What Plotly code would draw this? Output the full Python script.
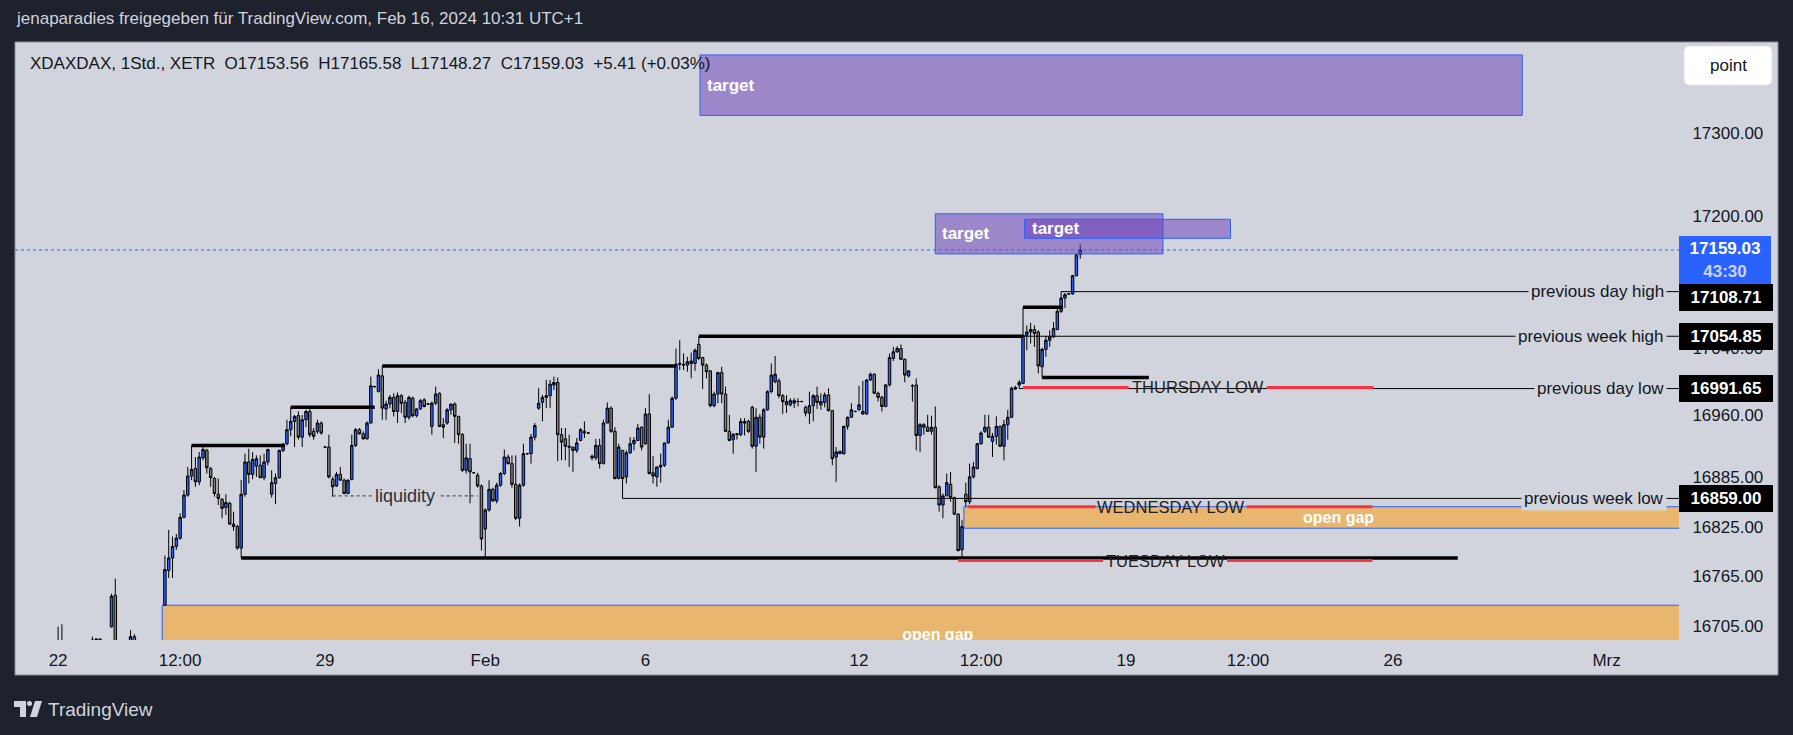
import plotly.graph_objects as go

# ---------------- data: hourly XDAX candles (open, high, low, close), 14 bars per day ----------------
jan22 = [(16660,16704,16640,16675),(16675,16707,16660,16680),(16680,16686,16650,16662),(16662,16680,16645,16670),
         (16670,16684,16655,16665),(16665,16682,16650,16676),(16676,16686,16660,16668),(16668,16684,16655,16678),
         (16678,16687,16668,16682),(16682,16692,16678,16688),(16688,16690,16686,16689),(16689,16690,16684,16686),
         (16686,16688,16683,16685),(16685,16687,16682,16684)]
jan23 = [(16704,16744,16703,16741),(16742,16762,16655,16668),(16668,16680,16640,16650),(16650,16672,16635,16660),
         (16660,16678,16645,16672),(16672,16700,16665,16692),(16692,16695,16650,16655),(16655,16668,16628,16640),
         (16640,16662,16625,16648),(16648,16660,16618,16630),(16630,16645,16625,16640),(16640,16648,16636,16644),
         (16644,16650,16640,16646),(16646,16652,16642,16648)]
jan24 = [(16730,16790,16729,16773),(16772,16821,16763,16787),(16787,16813,16763,16801),(16801,16816,16797,16811),
         (16811,16841,16809,16836),(16836,16869,16835,16863),(16863,16897,16861,16886),(16886,16923,16881,16894),
         (16895,16909,16873,16879),(16879,16915,16875,16909),(16908,16921,16905,16918),(16917,16919,16889,16896),
         (16895,16897,16873,16884),(16883,16885,16861,16865)]
jan25 = [(16864,16883,16851,16859),(16858,16859,16835,16847),(16848,16864,16839,16854),(16853,16855,16827,16828),
         (16828,16843,16820,16825),(16825,16827,16797,16799),(16799,16881,16787,16864),(16864,16913,16861,16903),
         (16903,16919,16877,16888),(16888,16915,16882,16906),(16898,16911,16885,16907),(16899,16911,16884,16884),
         (16884,16913,16881,16903),(16903,16919,16899,16918)]
jan26 = [(16864,16893,16860,16878),(16877,16889,16852,16884),(16884,16918,16883,16917),(16917,16926,16915,16923),
         (16925,16954,16923,16942),(16942,16969,16934,16952),(16952,16960,16921,16958),(16959,16964,16930,16933),
         (16933,16960,16921,16954),(16954,16966,16945,16964),(16964,16968,16933,16936),(16940,16944,16930,16934),
         (16940,16954,16937,16950),(16950,16952,16936,16938)]
jan29 = [(16921,16922,16920,16921),(16921,16936,16883,16885),(16882,16885,16861,16873),(16874,16891,16873,16888),
         (16888,16897,16881,16881),(16881,16883,16864,16865),(16865,16882,16864,16881),(16882,16936,16881,16923),
         (16923,16944,16921,16942),(16942,16944,16936,16937),(16937,16940,16930,16931),(16931,16952,16930,16950),
         (16950,17006,16950,16995),(16994,16995,16993,16994)]
jan30 = [(16988,17015,16987,17008),(17007,17019,16954,16968),(16967,16977,16954,16973),(16973,16984,16968,16981),
         (16981,16986,16958,16964),(16964,16987,16950,16983),(16983,16985,16962,16974),(16975,16978,16950,16957),
         (16957,16983,16954,16981),(16980,16982,16957,16959),(16959,16968,16957,16967),(16967,16979,16966,16977),
         (16978,16980,16969,16970),(16973,16974,16972,16973)]
jan31 = [(16946,16976,16936,16974),(16974,16994,16972,16985),(16986,16987,16945,16946),(16948,16956,16932,16945),
         (16950,16968,16948,16966),(16966,16973,16960,16973),(16973,16975,16926,16958),(16958,16959,16925,16936),
         (16936,16938,16891,16893),(16893,16925,16889,16908),(16907,16925,16853,16891),(16890,16891,16889,16890),
         (16887,16890,16872,16874),(16874,16876,16796,16810)]
feb01 = [(16822,16847,16787,16845),(16845,16881,16843,16870),(16870,16872,16855,16856),(16856,16878,16853,16875),
         (16875,16891,16873,16889),(16889,16918,16887,16909),(16909,16912,16900,16901),(16901,16911,16872,16876),
         (16876,16911,16833,16835),(16835,16877,16825,16875),(16875,16925,16873,16913),(16913,16914,16912,16913),
         (16913,16937,16901,16933),(16933,16950,16929,16947)]
feb02 = [(16968,16992,16966,16974),(16975,16984,16952,16981),(16981,17002,16968,16983),(16983,17002,16968,16997),
         (16996,17006,16990,16999),(16999,17005,16904,16936),(16936,16944,16905,16927),(16931,16944,16905,16922),
         (16922,16936,16897,16921),(16921,16921,16891,16917),(16917,16932,16914,16926),(16929,16944,16928,16942),
         (16940,16952,16932,16938),(16938,16939,16937,16938)]
feb05 = [(16910,16912,16905,16908),(16908,16931,16905,16923),(16923,16931,16895,16901),(16901,16954,16900,16950),
         (16950,16975,16950,16968),(16968,16970,16938,16940),(16940,16945,16882,16883),(16883,16925,16882,16921),
         (16917,16917,16859,16883),(16885,16917,16877,16914),(16914,16933,16913,16925),(16925,16933,16917,16929),
         (16929,16949,16928,16944),(16945,16946,16917,16921)]
feb06 = [(16925,16968,16924,16961),(16961,16985,16888,16889),(16890,16910,16877,16886),(16885,16897,16873,16897),
         (16897,16913,16878,16899),(16899,16926,16897,16926),(16926,16954,16925,16945),(16945,16982,16944,16980),
         (16980,17040,16978,17021),(17021,17050,17014,17022),(17021,17034,17014,17020),(17020,17030,17012,17024),
         (17025,17035,17004,17022),(17022,17040,17013,17038)]
feb07 = [(17045,17054.85,17026,17028),(17029,17030,16991,17020),(17020,17022,17004,17012),(17013,17014,16969,16971),
         (16971,16988,16969,16985),(16985,17012,16974,17011),(17011,17018,16974,16985),(16985,16994,16939,16940),
         (16940,16960,16928,16929),(16930,16938,16913,16936),(16936,16938,16930,16937),(16936,16956,16934,16952),
         (16952,16956,16935,16950),(16952,16954,16938,16940)]
feb08 = [(16969,16971,16919,16922),(16922,16968,16891,16957),(16957,16961,16925,16933),(16933,16968,16919,16966),
         (16966,16990,16965,16988),(16988,17022,16986,17008),(17000,17031,16998,17009),(17001,17004,16980,16983),
         (16983,16985,16961,16976),(16972,16984,16962,16976),(16972,16980,16970,16977),(16974,16980,16968,16977),
         (16976,16980,16970,16976),(16976,16977,16975,16976)]
feb09 = [(16969,16971,16958,16962),(16962,16988,16949,16971),(16971,16985,16952,16983),(16983,16994,16967,16975),
         (16972,16986,16966,16976),(16975,16987,16969,16984),(16984,16992,16964,16965),(16965,16966,16899,16907),
         (16909,16921,16879,16915),(16916,16916,16913,16913),(16913,16947,16912,16946),(16946,16958,16942,16957),
         (16957,16974,16956,16966),(16964,16965,16963,16964)]
feb12 = [(16966,16995,16965,16972),(16964,17001,16960,16961),(16961,17003,16960,17002),(17002,17011,17001,17009),
         (17009,17010,16985,16986),(16986,16988,16976,16981),(16981,16983,16964,16970),(16970,16997,16969,16996),
         (16996,17034,16994,17029),(17028,17042,17025,17036),(17036,17043,17035,17040),(17040,17045,17026,17027),
         (17027,17028,16999,17008),(17007,17014,17005,17013)]
feb13 = [(16995,16997,16976,16995),(16996,17004,16917,16935),(16935,16950,16915,16948),(16948,16950,16936,16945),
         (16945,16960,16940,16940),(16940,16959,16936,16945),(16945,16970,16871,16872),(16873,16875,16843,16851),
         (16851,16865,16835,16862),(16862,16889,16862,16878),(16876,16891,16855,16860),(16860,16861,16839,16840),
         (16840,16841,16795,16796),(16797,16833,16787,16825)]
feb14 = [(16864,16878,16849,16855),(16855,16901,16852,16885),(16885,16903,16883,16897),(16895,16926,16894,16925),
         (16925,16940,16924,16938),(16940,16960,16938,16945),(16945,16960,16932,16933),(16928,16938,16909,16934),
         (16934,16958,16924,16946),(16946,16947,16921,16922),(16922,16954,16905,16948),(16948,16966,16930,16957),
         (16957,16994,16956,16992),(16991,16995,16990,16993)]
feb15 = [(16996,17002,16991.65,16999),(16998,17090,16997,17056),(17056,17068,17038,17060),(17060,17071,17046,17063),
         (17063,17068,17042,17058),(17060,17062,17010,17019),(17018,17041,17005,17039),(17039,17055,17030,17050),
         (17050,17062,17042,17054),(17054,17072,17053,17064),(17063,17089,17062,17085),(17085,17108.71,17083,17101),
         (17101,17107,17089,17105),(17106,17107,17105,17106)]
feb16 = [(17106,17129,17105,17128),(17128,17155,17127,17153),(17153.56,17165.58,17148.27,17159.03)]

days = [jan22, jan23, jan24, jan25, jan26, jan29, jan30, jan31, feb01, feb02, feb05,
        feb06, feb07, feb08, feb09, feb12, feb13, feb14, feb15, feb16]
rows = [r for d in days for r in d]
bars = list(range(len(rows)))
opens = [r[0] for r in rows]
highs = [r[1] for r in rows]
lows = [r[2] for r in rows]
closes = [r[3] for r in rows]
last_price = 17159.03

# axis ticks (bar index = hourly bars since Jan 22, 08:00)
x_tick_bars = [0, 32, 70, 112, 154, 210, 242, 280, 312, 350, 406]
x_tick_text = ["22", "12:00", "29", "Feb", "6", "12", "12:00", "19", "12:00", "26", "Mrz"]
y_tick_vals = [16705, 16765, 16825, 16885, 16960, 17040, 17200, 17300]

# drawings: structure lines (from bar, to bar, price)
struct_lines = [(35, 59.5, 16923), (61, 83, 16969), (85, 162, 17019), (168, 253, 17054.85),
                (253, 263.5, 17090), (258, 286, 17005), (48, 367, 16787)]
# reference levels (start bar, price, label)
ref_levels = [(263, 17108.71, "previous day high"), (168, 17054.85, "previous week high"),
              (252, 16991.65, "previous day low"), (148, 16859.00, "previous week low")]
# red day-low lines: (left seg start, left seg end, right seg start, right seg end, price, text, text bar)
day_lows = [(253, 280.7, 316.9, 344.9, 16993, "THURSDAY LOW", 298.8),
            (238.5, 272, 311.6, 344.6, 16849, "WEDNESDAY LOW", 291.8),
            (236, 274, 306.5, 344.6, 16784, "TUESDAY LOW", 290.3)]
# liquidity line
liq = (72, 110, 16862, 91)
# target boxes (x0, x1, y0, y1)
targets = [(168.3, 383.9, 17321.5, 17394.6), (230, 289.7, 17154.3, 17202.7), (253.4, 307.4, 17173.1, 17196.1)]
# open gaps (x0, x1, y0, y1)
gaps = [(27.3, 434, 16600, 16730), (237.5, 434, 16823, 16849)]

X_RANGE = [-11.3, 425.0]
Y_RANGE = [16688.0, 17410.2]

# ---------------- layout helpers (pixel -> paper) ----------------
W, H = 1793, 735
PL, PR, PT, PB = 15, 1679, 42, 640
def px(x): return (x - PL) / (PR - PL)
def py(y): return (PB - y) / (PB - PT)

FONT = "Liberation Sans, Arial, Helvetica, sans-serif"
PANE = "#d1d4dc"
DARK = "#1e222d"
INK = "#131722"
BLUE = "#2962ff"
RED = "#f23645"

fig = go.Figure()
fig.add_trace(go.Candlestick(
    x=bars, open=opens, high=highs, low=lows, close=closes,
    increasing=dict(fillcolor=BLUE, line=dict(color="#000000", width=1)),
    decreasing=dict(fillcolor="#7f7f7f", line=dict(color="#000000", width=1)),
    whiskerwidth=0, hoverinfo="skip", showlegend=False))

shapes = []
# pane background incl. axes
shapes.append(dict(type="rect", xref="paper", yref="paper", x0=px(15), x1=px(1778), y0=py(675), y1=py(42),
                   fillcolor=PANE, line=dict(color="#8a8e99", width=1), layer="below"))
for (x0, x1, y0, y1) in gaps:
    shapes.append(dict(type="rect", xref="x", yref="y", x0=x0, x1=x1, y0=y0, y1=y1,
                       fillcolor="rgba(255,152,0,0.5)", line=dict(color=BLUE, width=1), layer="below"))
for (b, p, _t) in ref_levels:
    shapes.append(dict(type="line", xref="x", yref="y", x0=b, x1=X_RANGE[1], y0=p, y1=p,
                       line=dict(color="#000000", width=1)))
shapes.append(dict(type="line", xref="x", yref="y", x0=liq[0], x1=liq[1], y0=liq[2], y1=liq[2],
                   line=dict(color="#2a2e39", width=1, dash="dot")))
for (x0, x1, p) in struct_lines:
    shapes.append(dict(type="line", xref="x", yref="y", x0=x0, x1=x1, y0=p, y1=p,
                       line=dict(color="#000000", width=3.5)))
for (a0, a1, b0, b1, p, _t, _tb) in day_lows:
    for (s0, s1) in ((a0, a1), (b0, b1)):
        shapes.append(dict(type="line", xref="x", yref="y", x0=s0, x1=s1, y0=p, y1=p,
                           line=dict(color=RED, width=3)))
for (x0, x1, y0, y1) in targets:
    shapes.append(dict(type="rect", xref="x", yref="y", x0=x0, x1=x1, y0=y0, y1=y1,
                       fillcolor="rgba(103,58,183,0.5)", line=dict(color=BLUE, width=1)))
shapes.append(dict(type="line", xref="paper", yref="y", x0=0, x1=1, y0=last_price, y1=last_price,
                   line=dict(color=BLUE, width=1, dash="dot")))

def rrect(x0, y0, x1, y1, r):
    return (f"M {px(x0+r)},{py(y0)} L {px(x1-r)},{py(y0)} Q {px(x1)},{py(y0)} {px(x1)},{py(y0+r)} "
            f"L {px(x1)},{py(y1-r)} Q {px(x1)},{py(y1)} {px(x1-r)},{py(y1)} L {px(x0+r)},{py(y1)} "
            f"Q {px(x0)},{py(y1)} {px(x0)},{py(y1-r)} L {px(x0)},{py(y0+r)} Q {px(x0)},{py(y0)} {px(x0+r)},{py(y0)} Z")
# "point" button
shapes.append(dict(type="path", xref="paper", yref="paper", path=rrect(1684, 46, 1772, 85, 6),
                   fillcolor="#ffffff", line=dict(color="#e0e3eb", width=1)))
# TradingView logo (simplified)
def poly(pts):
    return "M " + " L ".join(f"{px(a)},{py(b)}" for a, b in pts) + " Z"
shapes.append(dict(type="path", xref="paper", yref="paper",
                   path=poly([(14, 701), (26, 701), (26, 717), (20, 717), (20, 707), (14, 707)]),
                   fillcolor="#d1d4dc", line=dict(width=0)))
shapes.append(dict(type="circle", xref="paper", yref="paper", x0=px(27), x1=px(32), y0=py(706), y1=py(701),
                   fillcolor="#d1d4dc", line=dict(width=0)))
shapes.append(dict(type="path", xref="paper", yref="paper",
                   path=poly([(35, 701), (42, 701), (37, 717), (30, 717)]),
                   fillcolor="#d1d4dc", line=dict(width=0)))

ann = []
# title + legend
ann.append(dict(xref="paper", yref="paper", x=px(14), y=py(18), xanchor="left", yanchor="middle", showarrow=False,
                text="jenaparadies freigegeben für TradingView.com, Feb 16, 2024 10:31 UTC+1",
                font=dict(family=FONT, size=17, color="#d1d4dc")))
ann.append(dict(xref="paper", yref="paper", x=px(28), y=py(64), xanchor="left", yanchor="middle", showarrow=False,
                text="XDAXDAX, 1Std., XETR\u00a0\u00a0O17153.56\u00a0\u00a0H17165.58\u00a0\u00a0L17148.27\u00a0\u00a0C17159.03\u00a0\u00a0+5.41 (+0.03%)",
                font=dict(family=FONT, size=17, color=INK)))
ann.append(dict(xref="paper", yref="paper", x=px(1728), y=py(65.5), xanchor="center", yanchor="middle",
                showarrow=False, text="point", font=dict(family=FONT, size=17, color=INK)))
ann.append(dict(xref="paper", yref="paper", x=px(46), y=py(709), xanchor="left", yanchor="middle",
                showarrow=False, text="TradingView", font=dict(family=FONT, size=19, color="#d1d4dc")))
# target labels
for (x0, x1, y0, y1) in targets:
    ann.append(dict(xref="x", yref="y", x=x0, y=(y0 + y1) / 2, xanchor="left", yanchor="middle", xshift=5,
                    showarrow=False, text="<b>target</b>", font=dict(family=FONT, size=17, color="#ffffff")))
# wednesday open gap label
g = gaps[1]
ann.append(dict(xref="x", yref="y", x=(g[0] + g[1]) / 2, y=(g[2] + g[3]) / 2, showarrow=False,
                text="<b>open gap</b>", font=dict(family=FONT, size=16, color="#ffffff")))
# day-low labels
for (a0, a1, b0, b1, p, t, tb) in day_lows:
    ann.append(dict(xref="x", yref="y", x=tb, y=p, showarrow=False, text=t,
                    font=dict(family=FONT, size=16.5, color="#1e1e1e")))
# liquidity label
ann.append(dict(xref="x", yref="y", x=liq[3], y=liq[2], showarrow=False, text="liquidity", bgcolor=PANE,
                borderpad=2, font=dict(family=FONT, size=18, color="#2a2e39")))
# reference level labels
for (b, p, t) in ref_levels:
    ann.append(dict(xref="paper", yref="y", x=1, y=p, xanchor="right", yanchor="middle", xshift=-12,
                    showarrow=False, text=t, bgcolor=PANE, borderpad=2,
                    font=dict(family=FONT, size=17, color=INK)))
# price-axis tags
for (b, p, t) in ref_levels:
    ann.append(dict(xref="paper", yref="y", x=1, y=p, xanchor="left", yanchor="middle",
                    yshift=-6 if p == 17108.71 else 0, showarrow=False, text=f"<b>{p:.2f}</b>",
                    bgcolor="#000000", width=86, height=19, borderpad=4, borderwidth=0, align="center",
                    font=dict(family=FONT, size=17, color="#ffffff")))
ann.append(dict(xref="paper", yref="y", x=1, y=last_price, xanchor="left", yanchor="top", yshift=14,
                showarrow=False, text=f"<b>{last_price:.2f}</b><br><b><span style='color:#c9d5ff'>43:30</span></b>",
                bgcolor=BLUE, width=86, height=42, borderpad=3, borderwidth=0, align="center",
                font=dict(family=FONT, size=17, color="#ffffff")))

# bottom open-gap label (clipped by the pane like in the original)
g0 = gaps[0]
fig.add_trace(go.Scatter(x=[(g0[0] + g0[1]) / 2], y=[16693], mode="text", text=["<b>open gap</b>"],
                         textfont=dict(family=FONT, size=16, color="#ffffff"), cliponaxis=True,
                         hoverinfo="skip", showlegend=False))

fig.update_layout(
    width=W, height=H, margin=dict(l=PL, r=W - PR, t=PT, b=H - PB),
    paper_bgcolor=DARK, plot_bgcolor=PANE, showlegend=False,
    boxgap=0.35, boxgroupgap=0,
    xaxis=dict(range=X_RANGE, tickvals=x_tick_bars, ticktext=x_tick_text, showgrid=False, zeroline=False,
               showline=False, ticks="", ticklabelstandoff=8, rangeslider=dict(visible=False),
               tickfont=dict(family=FONT, size=17, color=INK)),
    yaxis=dict(range=Y_RANGE, side="right", tickvals=y_tick_vals, ticktext=[f"{v:.2f}" for v in y_tick_vals],
               showgrid=False, zeroline=False, showline=False, ticks="outside", ticklen=9,
               tickcolor="rgba(0,0,0,0)", tickfont=dict(family=FONT, size=17, color=INK)),
    shapes=shapes, annotations=ann,
)
fig.write_html("out.html")
